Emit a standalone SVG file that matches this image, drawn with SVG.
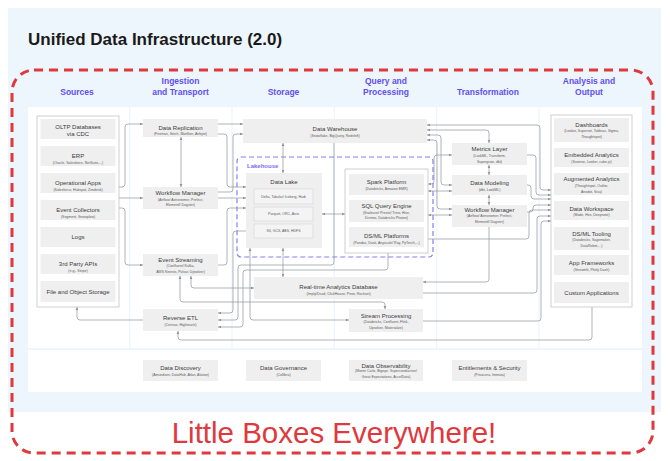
<svg xmlns="http://www.w3.org/2000/svg" width="670" height="461" viewBox="0 0 670 461">
<defs>
<marker id="a" viewBox="0 0 6 6" refX="6" refY="3" markerUnits="userSpaceOnUse" markerWidth="3.4" markerHeight="3.4" orient="auto-start-reverse"><path d="M0,0.3 L6,3 L0,5.7 z" fill="#8e929b"/></marker>
<marker id="m" viewBox="0 0 6 6" refX="6" refY="3" markerUnits="userSpaceOnUse" markerWidth="2" markerHeight="2" orient="auto-start-reverse"><path d="M0,0.3 L6,3 L0,5.7 z" fill="#8e929b"/></marker>
</defs>
<style>
text{font-family:"Liberation Sans",Arial,sans-serif}
.t{font-size:6px;fill:#3b3b3b;text-anchor:middle}
.s{font-size:3.5px;fill:#5a5a5a;text-anchor:middle}
.h{font-size:8.5px;font-weight:bold;fill:#5f4ff0;text-anchor:middle}
.b{fill:#efefef}
.o{fill:#fff;stroke:#c4c4c4;stroke-width:0.8}
.i{fill:#f4f4f4;stroke:#d4d4d4;stroke-width:0.6}
.c path{fill:none;stroke:#8e929b;stroke-width:0.7}
.e{marker-end:url(#a)}
.d{marker-end:url(#a);marker-start:url(#a)}
</style>
<rect x="0" y="0" width="670" height="461" fill="#fff"/>
<rect x="8" y="8" width="653" height="404" fill="#eef6fd"/>
<text x="28" y="45" style="font-size:17px;font-weight:bold;fill:#1a1a1a">Unified Data Infrastructure (2.0)</text>
<g id="columns" fill="#fff">
<rect x="28" y="107" width="101" height="241"/>
<rect x="130.33" y="107" width="101" height="241"/>
<rect x="232.67" y="107" width="101" height="241"/>
<rect x="335" y="107" width="101" height="241"/>
<rect x="437.33" y="107" width="101" height="241"/>
<rect x="539.67" y="107" width="102.33" height="241"/>
<rect x="28" y="350" width="614" height="42"/>
</g>
<g id="headers">
<text class="h" x="77" y="95">Sources</text>
<text class="h" x="180.5" y="84">Ingestion</text>
<text class="h" x="180.5" y="95">and Transport</text>
<text class="h" x="283.5" y="95">Storage</text>
<text class="h" x="386" y="84">Query and</text>
<text class="h" x="386" y="95">Processing</text>
<text class="h" x="488" y="95">Transformation</text>
<text class="h" x="589" y="84">Analysis and</text>
<text class="h" x="589" y="95">Output</text>
</g>
<g id="lakehouse">
<rect x="237" y="157" width="196" height="100" rx="4" fill="none" stroke="#8b7cf8" stroke-width="1.2" stroke-dasharray="5 3"/>
<text x="247" y="168" style="font-size:6px;font-weight:bold;fill:#7b6cf6">Lakehouse</text>
</g>
<g class="c" id="connectors">
<path class="e" d="M119,187 H122 Q125,187 125,184 V127 Q125,124 128,124 H143"/>
<path class="e" d="M119,198 H143"/>
<path class="e" d="M119,208 H122 Q125,208 125,211 V262 Q125,265 128,265 H143"/>
<path class="d" d="M181,137 V187"/>
<path class="e" d="M218,124 H243"/>
<path class="e" d="M218,134 H224 Q227,134 227,137 V184 Q227,187 230,187 H246"/>
<path class="e" d="M218,192 H230 Q233,192 233,189 V137 Q233,134 236,134 H243"/>
<path class="e" d="M218,198 H246"/>
<path class="e" d="M218,265 H224 Q227,265 227,262 V211 Q227,208 230,208 H246"/>
<path class="d" d="M283,143 V173"/>
<path class="d" d="M322,214 H345"/>
<path class="d" d="M283,248 V277"/>
<path class="d" d="M250,248 V317 Q250,320 253,320 H349"/>
<path class="e" d="M246,231 H236 Q233,231 233,234 V310 Q233,313 230,313 H218"/>
<path class="e" d="M334,143 V262 Q334,265 331,265 H241 Q238,265 238,268 V317 Q238,320 235,320 H218"/>
<path class="e" d="M388,253 V267 Q388,270 385,270 H246 Q243,270 243,273 V324 Q243,327 240,327 H218"/>
<path class="d" d="M191,276 V285 Q191,288 194,288 H254"/>
<path class="d" d="M180,276 V299 Q180,302 183,302 H382 Q385,302 385,305 V309"/>
<path class="e" d="M143,320 H80 Q77,320 77,317 V307"/>
<path class="e" d="M592,307 V337 Q592,340 589,340 H181 Q178,340 178,337 V331"/>
<path class="d" d="M427,125 H537 Q540,125 540,128 V187 Q540,190 543,190 H551"/>
<path class="d" d="M427,130 H486 Q489,130 489,133 V143"/>
<path class="d" d="M427,135 H438 Q441,135 441,138 V182 Q441,185 444,185 H452"/>
<path class="d" d="M427,140 H434 Q437,140 437,143 V206 Q437,209 440,209 H452"/>
<path class="d" d="M428,184 H431 Q434,184 434,181 V158 Q434,155 437,155 H452"/>
<path class="d" d="M428,191 H452"/>
<path class="d" d="M428,215 H452"/>
<path class="e" d="M424,239 H526 Q529,239 529,236 V213 Q529,210 532,210 H551"/>
<path class="e" d="M527,155 H533 Q536,155 536,158 V192 Q536,195 539,195 H551"/>
<path class="e" d="M527,185 H528 Q531,185 531,188 V196 Q531,199 534,199 H551"/>
<path class="e" d="M527,212 H530 Q533,212 533,209 V208 Q533,205 536,205 H551"/>
<path class="e" d="M423,293 H534 Q537,293 537,290 V219 Q537,216 540,216 H551"/>
<path class="e" d="M423,321 H538 Q541,321 541,318 V224 Q541,221 544,221 H551"/>
<path class="e" d="M489,227 V279 Q489,282 486,282 H423"/>
<path class="d" d="M489,165 V175"/>
<path class="d" d="M489,195 V205"/>
<path style="marker-start:url(#m);marker-end:url(#m)" d="M283.5,204.2 V206.8"/>
<path style="marker-start:url(#m);marker-end:url(#m)" d="M283.5,221.2 V223.8"/>
</g>
<g id="sources">
<rect class="o" x="37" y="116" width="82" height="191"/>
<rect class="b" x="40.5" y="119" width="75" height="20"/>
<text class="t" x="78" y="129">OLTP Databases</text><text class="t" x="78" y="135.5">via CDC</text>
<rect class="b" x="40.5" y="146" width="75" height="20"/>
<text class="t" x="78" y="158">ERP</text><text class="s" x="78" y="163.5">(Oracle, Salesforce, NetSuite,...)</text>
<rect class="b" x="40.5" y="173" width="75" height="20"/>
<text class="t" x="78" y="185">Operational Apps</text><text class="s" x="78" y="190.5">(Salesforce, Hubspot, Zendesk)</text>
<rect class="b" x="40.5" y="200" width="75" height="20"/>
<text class="t" x="78" y="212">Event Collectors</text><text class="s" x="78" y="217.5">(Segment, Snowplow)</text>
<rect class="b" x="40.5" y="227" width="75" height="20"/>
<text class="t" x="78" y="239">Logs</text>
<rect class="b" x="40.5" y="254" width="75" height="20"/>
<text class="t" x="78" y="266">3rd Party APIs</text><text class="s" x="78" y="271.5">(e.g., Stripe)</text>
<rect class="b" x="40.5" y="281" width="75" height="21"/>
<text class="t" x="78" y="293.5">File and Object Storage</text>
</g>
<g id="data-replication">
<rect class="b" x="143" y="119" width="75" height="18"/>
<text class="t" x="180.5" y="130">Data Replication</text><text class="s" x="180.5" y="135.3">(Fivetran, Stitch, Matillion, Airbyte)</text>
</g>
<g id="workflow-manager-ingest">
<rect class="b" x="143" y="187" width="75" height="22"/>
<text class="t" x="180.5" y="194.7">Workflow Manager</text><text class="s" x="180.5" y="200.5">(Airflow/ Astronomer, Prefect,</text><text class="s" x="180.5" y="206">Elementl/ Dagster)</text>
</g>
<g id="event-streaming">
<rect class="b" x="143" y="254" width="75" height="22"/>
<text class="t" x="180.5" y="262">Event Streaming</text><text class="s" x="180.5" y="267.3">(Confluent/ Kafka,</text><text class="s" x="180.5" y="273.3">AWS Kinesis, Pulsar, Upsolver)</text>
</g>
<g id="reverse-etl">
<rect class="b" x="143" y="309" width="75" height="22"/>
<text class="t" x="180.5" y="320.3">Reverse ETL</text><text class="s" x="180.5" y="326.2">(Census, Hightouch)</text>
</g>
<g id="data-warehouse">
<rect class="b" x="243" y="119" width="184" height="24"/>
<text class="t" x="335" y="131.3">Data Warehouse</text><text class="s" x="335" y="136.5">(Snowflake, BigQuery, Redshift)</text>
</g>
<g id="data-lake">
<rect class="b" x="246" y="173" width="76" height="75"/>
<text class="t" x="284" y="184">Data Lake</text>
<rect class="i" x="254" y="189" width="59" height="15"/>
<text class="s" x="283.5" y="198">Delta, Tabular/ Iceberg, Hudi</text>
<rect class="i" x="254" y="207" width="59" height="14"/>
<text class="s" x="283.5" y="215.2">Parquet, ORC, Avro</text>
<rect class="i" x="254" y="224" width="59" height="14"/>
<text class="s" x="283.5" y="232.2">S3, GCS, ABS, HDFS</text>
</g>
<g id="query-processing">
<rect class="o" x="345" y="169" width="83" height="84"/>
<rect class="b" x="349" y="174" width="75" height="21"/>
<text class="t" x="386.5" y="183.7">Spark Platform</text><text class="s" x="386.5" y="189.5">(Databricks, Amazon EMR)</text>
<rect class="b" x="349" y="200" width="75" height="22"/>
<text class="t" x="386.5" y="207.7">SQL Query Engine</text><text class="s" x="386.5" y="213.6">(Starburst/ Presto/ Trino, Hive,</text><text class="s" x="386.5" y="219.2">Dremio, Databricks Photon)</text>
<rect class="b" x="349" y="227" width="75" height="20"/>
<text class="t" x="386.5" y="238">DS/ML Platforms</text><text class="s" x="386.5" y="243.5">(Pandas, Dask, Anyscale/ Ray, PyTorch,...)</text>
</g>
<g id="realtime-analytics-db">
<rect class="b" x="254" y="277" width="169" height="22"/>
<text class="t" x="338.5" y="288.7">Real-time Analytics Database</text><text class="s" x="338.5" y="294.5">(Imply/Druid, ClickHouse, Pinot, Rockset)</text>
</g>
<g id="stream-processing">
<rect class="b" x="349" y="309" width="74" height="23"/>
<text class="t" x="386" y="317.7">Stream Processing</text><text class="s" x="386" y="322.9">(Databricks, Confluent, Flink,</text><text class="s" x="386" y="328.7">Upsolver, Materialize)</text>
</g>
<g id="metrics-layer">
<rect class="b" x="452" y="143" width="75" height="22"/>
<text class="t" x="489.5" y="151.3">Metrics Layer</text><text class="s" x="489.5" y="156.8">(LookML, Transform,</text><text class="s" x="489.5" y="162.6">Supergrain, dbt)</text>
</g>
<g id="data-modeling">
<rect class="b" x="452" y="175" width="75" height="20"/>
<text class="t" x="489.5" y="184.7">Data Modeling</text><text class="s" x="489.5" y="190.5">(dbt, LookML)</text>
</g>
<g id="workflow-manager-transform">
<rect class="b" x="452" y="205" width="75" height="22"/>
<text class="t" x="489.5" y="212">Workflow Manager</text><text class="s" x="489.5" y="217.4">(Airflow/ Astronomer, Prefect,</text><text class="s" x="489.5" y="223">Elementl/ Dagster)</text>
</g>
<g id="output">
<rect class="o" x="551" y="115" width="81" height="192"/>
<rect class="b" x="554" y="118" width="75" height="24"/>
<text class="t" x="591.5" y="127">Dashboards</text><text class="s" x="591.5" y="132.4">(Looker, Superset, Tableau, Sigma,</text><text class="s" x="591.5" y="138">Thoughtspot)</text>
<rect class="b" x="554" y="148" width="75" height="19"/>
<text class="t" x="591.5" y="157">Embedded Analytics</text><text class="s" x="591.5" y="162.9">(Sisense, Looker, cube.js)</text>
<rect class="b" x="554" y="173" width="75" height="22"/>
<text class="t" x="591.5" y="181.3">Augmented Analytics</text><text class="s" x="591.5" y="187.2">(Thoughtspot, Outlier,</text><text class="s" x="591.5" y="192.9">Anodot, Sisu)</text>
<rect class="b" x="554" y="201" width="75" height="19"/>
<text class="t" x="591.5" y="211">Data Workspace</text><text class="s" x="591.5" y="216.2">(Mode, Hex, Deepnote)</text>
<rect class="b" x="554" y="227" width="75" height="23"/>
<text class="t" x="591.5" y="236">DS/ML Tooling</text><text class="s" x="591.5" y="241.2">(Databricks, Sagemaker,</text><text class="s" x="591.5" y="246.9">DataRobot,...)</text>
<rect class="b" x="554" y="255" width="75" height="20"/>
<text class="t" x="591.5" y="265.3">App Frameworks</text><text class="s" x="591.5" y="271.2">(Streamlit, Plotly Dash)</text>
<rect class="b" x="554" y="282" width="75" height="21"/>
<text class="t" x="591.5" y="295">Custom Applications</text>
</g>
<g id="data-discovery">
<rect class="b" x="143" y="360" width="75" height="21"/>
<text class="t" x="180.5" y="370.3">Data Discovery</text><text class="s" x="180.5" y="375.7">(Amundsen, DataHub, Atlan, Alation)</text>
</g>
<g id="data-governance">
<rect class="b" x="246" y="360" width="75" height="21"/>
<text class="t" x="283.5" y="370.3">Data Governance</text><text class="s" x="283.5" y="375.7">(Collibra)</text>
</g>
<g id="data-observability">
<rect class="b" x="349" y="360" width="74" height="21"/>
<text class="t" x="386" y="367.7">Data Observability</text><text class="s" x="386" y="372.4">(Monte Carlo, Bigeye, Superconductive/</text><text class="s" x="386" y="378">Great Expectations, AccelData)</text>
</g>
<g id="entitlements-security">
<rect class="b" x="452" y="360" width="75" height="21"/>
<text class="t" x="489.5" y="370.3">Entitlements &amp; Security</text><text class="s" x="489.5" y="375.7">(Privacera, Immuta)</text>
</g>
<rect x="12" y="70" width="641" height="383" rx="22" fill="none" stroke="#e0383c" stroke-width="3" stroke-dasharray="9 6"/>
<text x="334" y="443" style="font-size:29.5px;fill:#e0383c;text-anchor:middle">Little Boxes Everywhere!</text>
</svg>
